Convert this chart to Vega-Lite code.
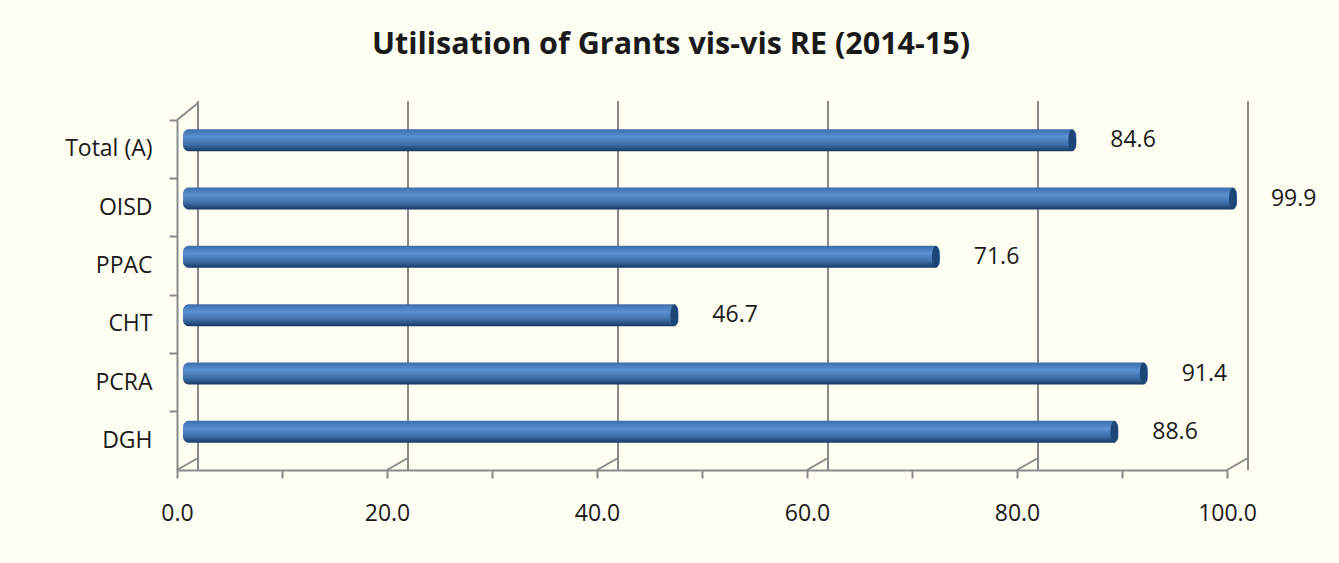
{
  "$schema": "https://vega.github.io/schema/vega-lite/v6.json",
  "autosize": {"type": "none"},
  "width": 1050,
  "height": 350,
  "padding": {"left": 177, "top": 120, "right": 112, "bottom": 93},
  "background": "#FEFEF3",
  "title": {"text": "Utilisation of Grants vis-vis RE (2014-15)", "font": "Open Sans", "fontSize": 30.5, "fontWeight": "bold", "color": "#1a1a1a", "anchor": "middle", "dx": -31, "offset": 40},
  "config": {"view": {"stroke": null}, "font": "Open Sans"},
  "datasets": {
    "bars": [
      {"c": "Total (A)", "v": 84.6},
      {"c": "OISD", "v": 99.9},
      {"c": "PPAC", "v": 71.6},
      {"c": "CHT", "v": 46.7},
      {"c": "PCRA", "v": 91.4},
      {"c": "DGH", "v": 88.6}
    ],
    "grid": [{"v": 0}, {"v": 20}, {"v": 40}, {"v": 60}, {"v": 80}, {"v": 100}]
  },
  "layer": [
    {
      "data": {"name": "grid"},
      "mark": {"type": "rule", "color": "#8a8a8a", "strokeWidth": 2, "xOffset": 21, "yOffset": -19, "y2Offset": -12},
      "encoding": {
        "x": {"field": "v", "type": "quantitative", "scale": {"domain": [0, 100], "nice": false, "zero": true},
          "axis": {"title": null, "values": [0, 10, 20, 30, 40, 50, 60, 70, 80, 90, 100], "labelExpr": "datum.value % 20 == 0 ? format(datum.value, '.1f') : ''", "grid": false, "domainColor": "#8a8a8a", "domainWidth": 2, "tickColor": "#8a8a8a", "tickWidth": 2, "tickSize": 8, "labelPadding": 24, "labelFontSize": 23, "labelColor": "#1a1a1a", "labelFont": "Open Sans", "labelFlush": false}}
      }
    },
    {
      "data": {"name": "grid"},
      "mark": {"type": "rule", "color": "#8a8a8a", "strokeWidth": 2, "x2Offset": 21, "y2Offset": -12},
      "encoding": {
        "x": {"field": "v", "type": "quantitative"},
        "x2": {"field": "v"},
        "y": {"datum": "DGH", "type": "nominal", "bandPosition": 1},
        "y2": {"datum": "DGH", "bandPosition": 1}
      }
    },
    {
      "data": {"values": [{"v": 0}]},
      "mark": {"type": "rule", "color": "#8a8a8a", "strokeWidth": 2, "x2Offset": 21, "y2Offset": -17},
      "encoding": {
        "x": {"field": "v", "type": "quantitative"},
        "x2": {"field": "v"},
        "y": {"datum": "Total (A)", "type": "nominal", "bandPosition": 0},
        "y2": {"datum": "Total (A)", "bandPosition": 0}
      }
    },
    {
      "data": {"name": "bars"},
      "mark": {"type": "bar", "size": 22, "cornerRadius": 6, "xOffset": 11, "x2Offset": 6, "yOffset": -9,
        "fill": {"x1": 0, "y1": 0, "x2": 0, "y2": 1, "gradient": "linear", "stops": [
          {"offset": 0, "color": "#3c6eab"},
          {"offset": 0.35, "color": "#5b91d0"},
          {"offset": 0.7, "color": "#3d6ea8"},
          {"offset": 1, "color": "#163a62"}
        ]}},
      "encoding": {
        "x": {"field": "v", "type": "quantitative"},
        "x2": {"datum": 0},
        "y": {"field": "c", "type": "nominal", "sort": null,
          "scale": {"domain": ["Total (A)", "OISD", "PPAC", "CHT", "PCRA", "DGH"], "paddingInner": 0, "paddingOuter": 0},
          "axis": {"title": null, "bandPosition": 0, "domainColor": "#8a8a8a", "domainWidth": 2, "tickColor": "#8a8a8a", "tickWidth": 2, "tickSize": 8, "labelPadding": 17, "labelFontSize": 23, "labelColor": "#1a1a1a", "labelFont": "Open Sans"}}
      }
    },
    {
      "data": {"name": "bars"},
      "mark": {"type": "point", "shape": "M0,-1 A0.35,1 0 1,1 0,1 A0.35,1 0 1,1 0,-1 Z", "size": 484, "filled": true, "fill": "#1b4676", "opacity": 1, "strokeWidth": 0, "xOffset": 7, "yOffset": -9},
      "encoding": {
        "x": {"field": "v", "type": "quantitative"},
        "y": {"field": "c", "type": "nominal"}
      }
    },
    {
      "data": {"name": "bars"},
      "mark": {"type": "text", "align": "left", "baseline": "middle", "fontSize": 23, "font": "Open Sans", "color": "#1a1a1a", "xOffset": 45, "yOffset": -9},
      "encoding": {
        "x": {"field": "v", "type": "quantitative"},
        "y": {"field": "c", "type": "nominal"},
        "text": {"field": "v", "type": "quantitative", "format": ".1f"}
      }
    }
  ]
}
